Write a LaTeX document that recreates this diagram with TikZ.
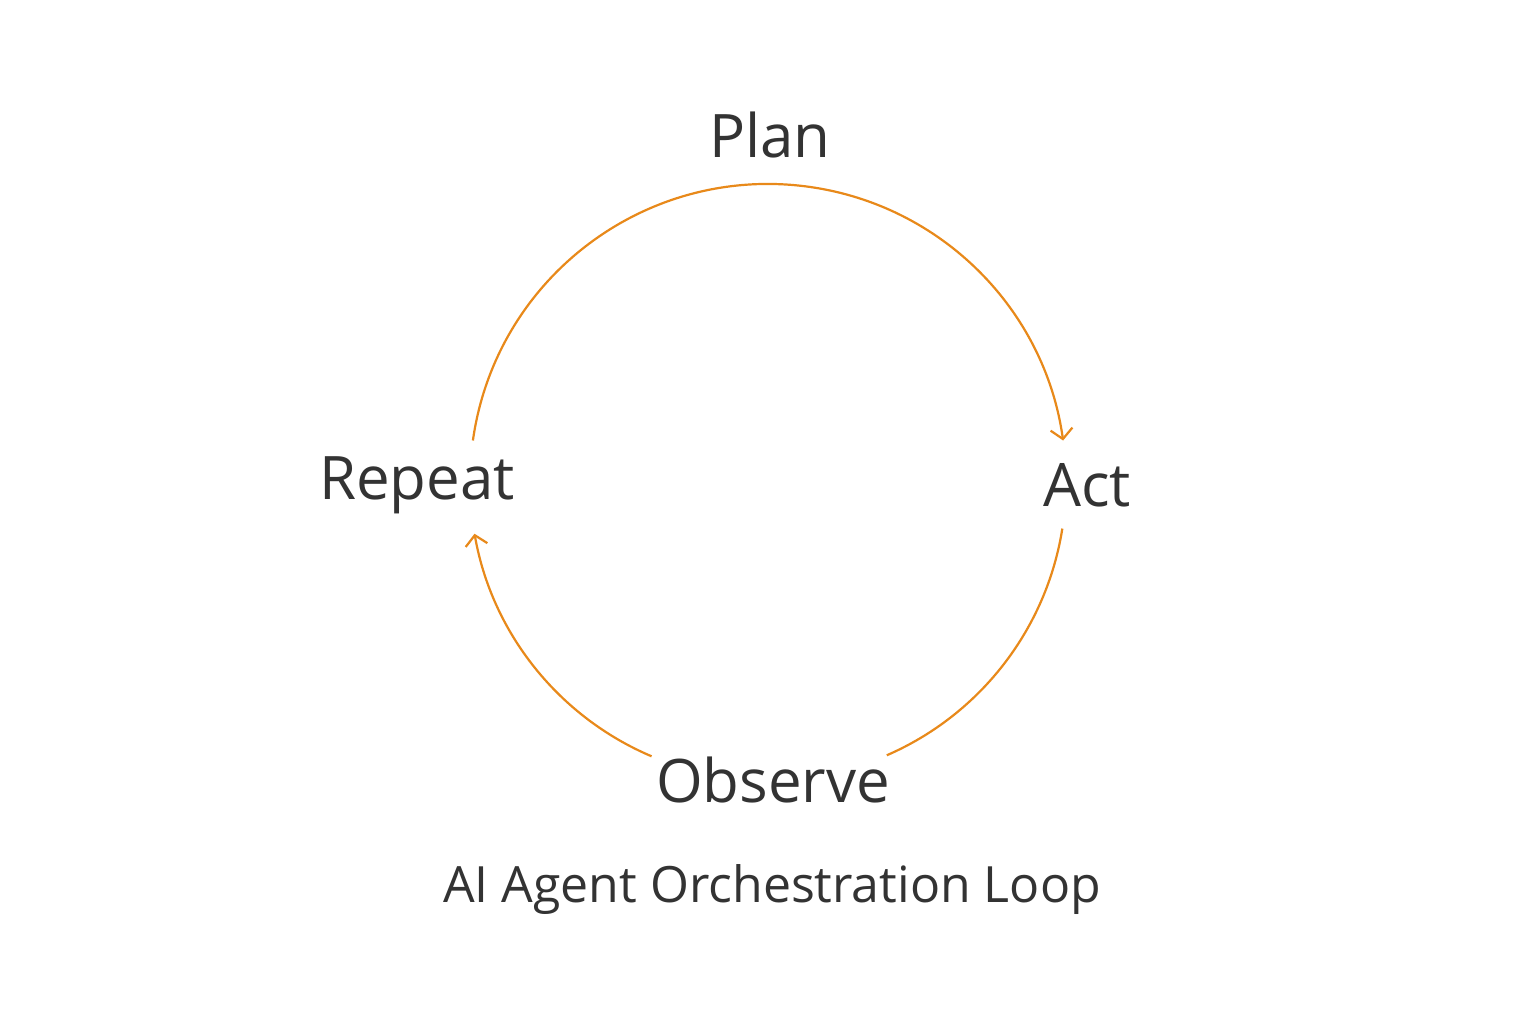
\documentclass[tikz,border=0pt]{standalone}
\usepackage{fontspec}
\setmainfont{Open Sans}
\usetikzlibrary{arrows.meta,calc}
\definecolor{loop}{HTML}{E8891A}
\definecolor{txt}{HTML}{333333}
\begin{document}
\begin{tikzpicture}[x=1pt,y=1pt,
  lbl/.style={text=txt,font=\fontsize{60}{70}\selectfont,inner sep=0pt},
  arc/.style={draw=loop,line width=2.2pt,-{Straight Barb[length=10pt,width=22pt,line width=2.2pt]}},
  plain/.style={draw=loop,line width=2.2pt}]
\useasboundingbox (0,0) rectangle (1536,1024);
\fill[white] (0,0) rectangle (1536,1024);
\coordinate (c) at (768,542);
\node[lbl] (plan) at (770,889) {Plan};
\node[lbl] (repeat) at (417,539) {Repeat};
\node[lbl] (act) at (1087,539) {Act};
\node[lbl] (observe) at (773,244) {Observe};
\node[text=txt,font=\fontsize{50}{60}\selectfont,inner sep=0pt] (title) at (772,134) {AI Agent Orchestration Loop};
\draw[arc] ($(c)+(172:298)$) arc[start angle=172,end angle=8,radius=298];
\draw[plain] ($(c)+(-9:298)$) arc[start angle=-9,end angle=-66.5,radius=298];
\draw[arc] ($(c)+(-113:298)$) arc[start angle=-113,end angle=-170,radius=298];
\end{tikzpicture}
\end{document}
